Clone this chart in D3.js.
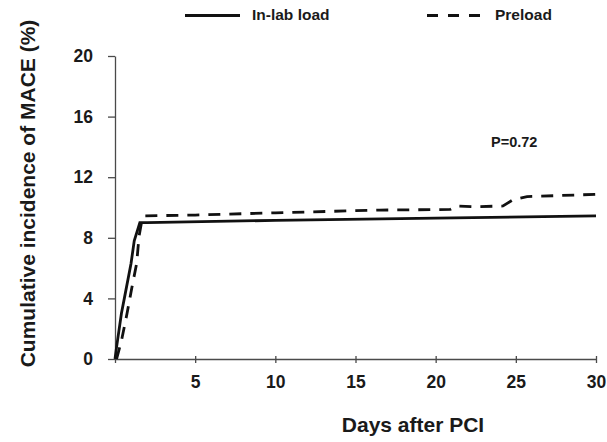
<!DOCTYPE html>
<html>
<head>
<meta charset="utf-8">
<script src="https://cdn.jsdelivr.net/npm/d3@7"></script>
<style>
  body { margin: 0; background: #fff; }
  svg text { font-family: "Liberation Sans", Arial, sans-serif; font-weight: bold; fill: #1a1a1a; }
</style>
</head>
<body>
<div id="chart"></div>
<script>
// Cumulative incidence of MACE (%) by day after PCI
const inLabDays   = [0, 0.1, 0.4, 0.6, 1.0, 1.2, 1.55, 2, 10, 20, 30];
const inLabValues = [0, 0.8, 3.0, 4.1, 6.3, 7.8, 9.0, 9.0, 9.15, 9.3, 9.45];

const preloadDays   = [0.1, 0.4, 0.75, 1.05, 1.35, 1.5, 1.65, 1.85, 5, 10, 16.5, 20.9, 21.3, 22.4, 24.2, 24.8, 25.7, 30];
const preloadValues = [0, 1.2, 3.0, 4.7, 6.3, 8.1, 9.0, 9.45, 9.5, 9.65, 9.83, 9.87, 10.1, 10.05, 10.1, 10.5, 10.72, 10.87];

const xTicks = [0, 5, 10, 15, 20, 25, 30];
const yTicks = [0, 4, 8, 12, 16, 20];

const seriesNames = ["In-lab load", "Preload"];
const pValueLabel = "P=0.72";

const width = 607;
const height = 442;

const svg = d3.select("#chart")
    .append("svg")
    .attr("width", width)
    .attr("height", height);

const x = d3.scaleLinear()
    .domain([0, 30])
    .range([115, 596]);

const y = d3.scaleLinear()
    .domain([0, 20])
    .range([359, 56]);

// y axis
const yAxis = svg.append("g")
    .attr("transform", `translate(${x(0)},0)`)
    .call(d3.axisLeft(y).tickValues(yTicks).tickSizeInner(7).tickSizeOuter(0).tickPadding(15));
yAxis.selectAll("text").style("font-size", "17.5px");

// x axis (ticks cross the line)
const xAxis = svg.append("g")
    .attr("transform", `translate(0,${y(0)})`)
    .call(d3.axisBottom(x).tickValues(xTicks).tickSizeInner(4).tickSizeOuter(0).tickPadding(13)
        .tickFormat(d => d === 0 ? "" : d));
xAxis.selectAll(".tick line").attr("y1", -3);
xAxis.selectAll("text").style("font-size", "17.5px");

svg.selectAll(".domain, .tick line")
    .attr("stroke", "#4a4a4a")
    .attr("stroke-width", 1.3);

// axis titles
svg.append("text")
    .attr("transform", `translate(35,${(20 + 367) / 2}) rotate(-90)`)
    .attr("text-anchor", "middle")
    .style("font-size", "21px")
    .text("Cumulative incidence of MACE (%)");

svg.append("text")
    .attr("x", 413)
    .attr("y", 432)
    .attr("text-anchor", "middle")
    .style("font-size", "21px")
    .text("Days after PCI");

// curves
const line = d3.line()
    .x(d => x(d[0]))
    .y(d => y(d[1]));

svg.append("path")
    .datum(d3.zip(inLabDays, inLabValues))
    .attr("d", line)
    .attr("fill", "none")
    .attr("stroke", "#111")
    .attr("stroke-width", 2.8);

svg.append("path")
    .datum(d3.zip(preloadDays, preloadValues))
    .attr("d", line)
    .attr("fill", "none")
    .attr("stroke", "#111")
    .attr("stroke-width", 2.8)
    .attr("stroke-dasharray", "12,9");

// p value
svg.append("text")
    .attr("x", 491)
    .attr("y", 147)
    .style("font-size", "14.5px")
    .text(pValueLabel);

// legend
const legend = svg.append("g");
legend.append("line")
    .attr("x1", 185).attr("x2", 240)
    .attr("y1", 15.5).attr("y2", 15.5)
    .attr("stroke", "#111").attr("stroke-width", 3);
legend.append("text")
    .attr("x", 252).attr("y", 20)
    .style("font-size", "15.5px")
    .text(seriesNames[0]);
legend.append("line")
    .attr("x1", 427).attr("x2", 480)
    .attr("y1", 15.5).attr("y2", 15.5)
    .attr("stroke", "#111").attr("stroke-width", 3)
    .attr("stroke-dasharray", "11,10");
legend.append("text")
    .attr("x", 495).attr("y", 20)
    .style("font-size", "15.5px")
    .text(seriesNames[1]);
</script>
</body>
</html>
